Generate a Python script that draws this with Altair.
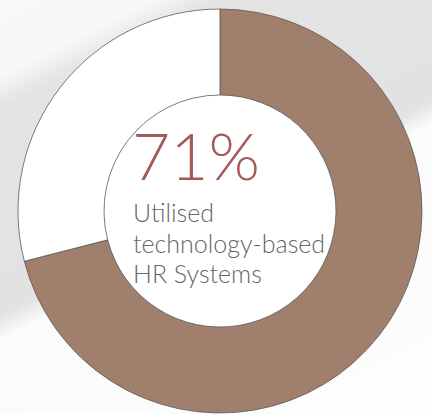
import altair as alt
import pandas as pd
import math

# ---- data ----
categories = ["Utilised", "Not utilised"]
values = [71, 29]
slice_colors = ["#a0806c", "#ffffff"]
headline = "71%"
caption = ["Utilised", "technology-based", "HR Systems"]

W, H = 432, 414
CX, CY = 220, 211
R_OUT, R_IN = 202, 116

df = pd.DataFrame({"category": categories, "value": values, "rank": list(range(len(categories)))})

# background decoration: soft grey diagonal band
bg = alt.Chart(pd.DataFrame({"a": [0]})).mark_rect(
    color=alt.LinearGradient(
        gradient="linear",
        x1=0, y1=0, x2=0.624, y2=1.196,
        stops=[
            alt.GradientStop(color="#f8f8f8", offset=0.0),
            alt.GradientStop(color="#f7f7f7", offset=0.12),
            alt.GradientStop(color="#e4e4e4", offset=0.17),
            alt.GradientStop(color="#e2e2e2", offset=0.50),
            alt.GradientStop(color="#fbfbfb", offset=0.54),
            alt.GradientStop(color="#fdfdfd", offset=1.0),
        ],
    )
).encode(x=alt.value(0), x2=alt.value(W), y=alt.value(0), y2=alt.value(H))

# white disc in the centre of the donut
hole = alt.Chart(pd.DataFrame({"a": [0]})).mark_arc(
    radius=R_IN, theta=0, theta2=2 * math.pi, fill="#ffffff", stroke=None
).encode(x=alt.value(CX), y=alt.value(CY))

arc = alt.Chart(df).mark_arc(
    outerRadius=R_OUT, innerRadius=R_IN, stroke="#5a5a5a", strokeWidth=0.8
).encode(
    theta=alt.Theta("value:Q", stack=True),
    color=alt.Color("category:N", scale=alt.Scale(domain=categories, range=slice_colors), legend=None),
    order=alt.Order("rank:Q"),
    x=alt.value(CX),
    y=alt.value(CY),
)

t1 = alt.Chart(pd.DataFrame({"t": [headline]})).mark_text(
    align="left", baseline="alphabetic", font="Lato", fontWeight=300,
    fontSize=66, color="#a35a5a"
).encode(x=alt.value(132), y=alt.value(180), text="t:N")

t2 = alt.Chart(pd.DataFrame({"a": [0]})).mark_text(
    align="left", baseline="alphabetic", font="Lato", fontWeight=300,
    fontSize=25, lineHeight=30.5, color="#666666"
).encode(x=alt.value(133), y=alt.value(222), text=alt.value(caption))

chart = alt.layer(bg, hole, arc, t1, t2).properties(
    width=W, height=H, padding=0, autosize="none", background="#ffffff"
).configure_view(stroke=None)

chart.save("out.html", embed_options={"renderer": "svg", "actions": False})
